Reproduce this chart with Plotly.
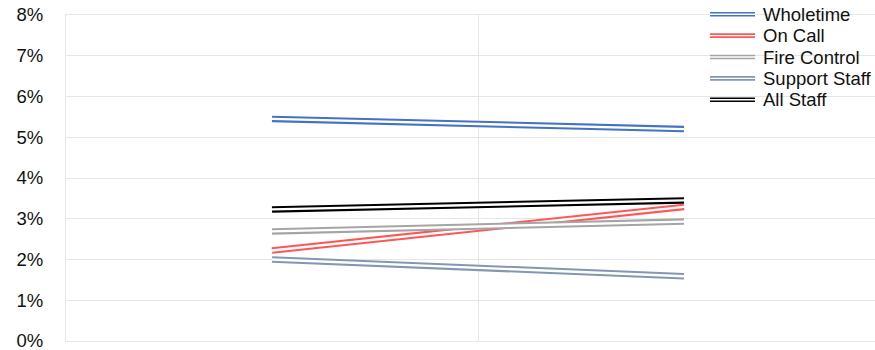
import plotly.graph_objects as go

# Two reporting periods (category axis, labels hidden)
periods = ["Period 1", "Period 2"]

# Sickness absence rate by staff group (fraction of working time)
wholetime = [0.0545, 0.0520]
on_call = [0.0222, 0.0329]
fire_control = [0.0269, 0.0293]
support_staff = [0.0200, 0.0159]
all_staff = [0.0323, 0.0345]

series_names = ["Wholetime", "On Call", "Fire Control", "Support Staff", "All Staff"]
series_values = [wholetime, on_call, fire_control, support_staff, all_staff]
series_colors = ["#4472C4", "#FF5757", "#A5A5A5", "#8497B0", "#000000"]

y_ticks = [0, 0.01, 0.02, 0.03, 0.04, 0.05, 0.06, 0.07, 0.08]

W, H = 875, 350
L, R, T, B = 66, 0, 15, 9
plot_w = W - L - R
plot_h = H - T - B

fig = go.Figure()

# Each series is drawn as a double line: a wide coloured stroke with a thin
# white stroke along its centre.
for name, vals, col in zip(series_names, series_values, series_colors):
    fig.add_trace(go.Scatter(x=periods, y=vals, mode="lines", name=name,
                             line=dict(color=col, width=6.5), showlegend=False,
                             hoverinfo="skip"))
    fig.add_trace(go.Scatter(x=periods, y=vals, mode="lines", name=name,
                             line=dict(color="white", width=2.4), showlegend=False,
                             hoverinfo="skip"))

# Legend with double-line swatches
def px_to_paper(px, py):
    return (px - L) / plot_w, (H - B - py) / plot_h

row_y = [14.3, 35.6, 57.0, 78.4, 99.8]
for name, col, ry in zip(series_names, series_colors, row_y):
    x0, y0 = px_to_paper(710, ry)
    x1, _ = px_to_paper(755, ry)
    fig.add_shape(type="line", xref="paper", yref="paper", x0=x0, x1=x1, y0=y0, y1=y0,
                  line=dict(color=col, width=4.6), layer="above")
    fig.add_shape(type="line", xref="paper", yref="paper", x0=x0, x1=x1, y0=y0, y1=y0,
                  line=dict(color="white", width=1.4), layer="above")
    tx, ty = px_to_paper(761, ry)
    fig.add_annotation(xref="paper", yref="paper", x=tx, y=ty, text=name,
                       showarrow=False, xanchor="left", yanchor="middle",
                       font=dict(family="Liberation Sans, Arial", size=18.5, color="#111111"))

grid_col = "#E6E6E6"
fig.update_layout(
    width=W, height=H,
    margin=dict(l=L, r=R, t=T, b=B, pad=0),
    paper_bgcolor="white", plot_bgcolor="white",
    showlegend=False,
    font=dict(family="Liberation Sans, Arial", size=18, color="#111111"),
    xaxis=dict(type="category", range=[-0.5, 1.5 - 15 / 412],
               showticklabels=False, ticks="",
               tickmode="array", tickvals=[-0.5, 0.5],
               showgrid=True, gridcolor=grid_col, gridwidth=1,
               showline=True, mirror=True, linecolor=grid_col, linewidth=1,
               zeroline=False, fixedrange=True),
    yaxis=dict(range=[0, 0.08], tickvals=y_ticks, tickformat=".0%",
               showgrid=True, gridcolor=grid_col, gridwidth=1,
               showline=True, linecolor=grid_col, linewidth=1,
               zeroline=False, ticks="", ticklabelstandoff=18,
               ticklabeloverflow="allow",
               tickfont=dict(family="Liberation Sans, Arial", size=18.5, color="#111111"),
               fixedrange=True),
)

fig.write_html("out.html")
